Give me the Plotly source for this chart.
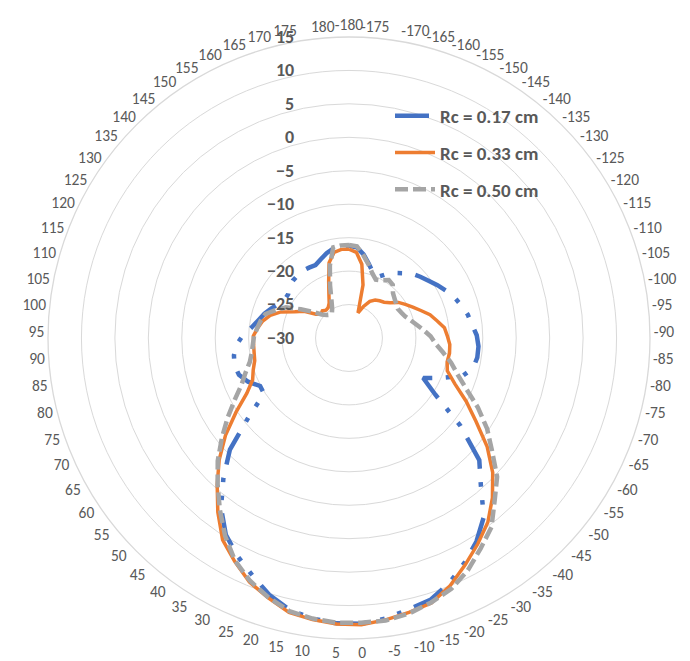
import plotly.graph_objects as go

# Angle categories, -180 ... 180 in 5-degree steps (73 spokes)
angles = list(range(-180, 185, 5))
categories = [str(a) for a in angles]

# Gain values (dB) per angle, listed from -180 to 180
rc_017 = [
    -16.2, -16.4, -17.3, -18.5, -19.5, -20.0, -19.1, -18.2, -17.45, -16.55,
    -15.95, -15.35, -14.6, -13.85, -13.1, -12.5, -11.9, -11.5, -10.9, -10.6,
    -10.6, -10.9, -12.1, -15.0, -17.4, -14.55, -8.8, -3.3, -0.5, 3.5,
    5.9, 7.8, 9.6, 11.0, 11.55, 12.3, 12.75, 12.7, 12.3, 11.6,
    10.2, 8.3, 6.6, 4.7, 1.8, -1.9, -5.6, -10.9, -14.8, -14.9,
    -13.55, -12.65, -12.4, -12.6, -13.1, -14.1, -15.35, -16.2, -16.85, -17.6,
    -18.3, -18.8, -18.8, -18.3, -18.0, -17.9, -17.8, -17.9, -18.0, -17.5,
    -16.9, -16.4, -16.2,
]
rc_033 = [
    -16.7, -17.15, -18.8, -21.8, -26.0, -24.8, -23.7, -23.1, -22.8, -22.5,
    -21.9, -20.9, -20.2, -19.4, -18.5, -17.4, -16.6, -15.65, -15.3, -14.9,
    -14.8, -14.9, -14.5, -12.75, -10.1, -7.3, -3.7, -0.55, 2.1, 4.5,
    6.3, 8.1, 10.0, 11.5, 12.0, 12.5, 12.9, 12.8, 12.45, 12.0,
    10.7, 9.4, 7.5, 5.6, 2.6, -0.5, -3.4, -6.5, -9.8, -12.65,
    -14.3, -14.9, -15.5, -15.65, -15.7, -15.7, -16.25, -16.85, -17.75, -19.1,
    -21.0, -22.2, -23.9, -24.5, -24.3, -24.6, -24.5, -24.0, -22.8, -21.0,
    -18.35, -17.0, -16.7,
]
rc_050 = [
    -16.1, -16.25, -17.45, -18.6, -19.7, -20.4, -20.1, -19.5, -19.7, -20.6,
    -21.0, -21.3, -21.5, -21.3, -21.0, -20.4, -19.7, -18.8, -17.8, -17.05,
    -15.8, -14.3, -12.9, -10.9, -8.1, -5.3, -2.8, 0.35, 2.6, 5.4,
    7.1, 9.0, 10.5, 11.4, 12.15, 12.6, 12.6, 12.6, 12.3, 11.8,
    10.6, 9.2, 7.4, 4.9, 2.1, -0.6, -3.1, -5.8, -8.3, -10.6,
    -12.5, -13.7, -14.75, -15.3, -15.6, -15.8, -16.2, -16.55, -17.0, -18.3,
    -19.5, -21.6, -23.3, -24.6, -25.2, -25.5, -25.5, -24.9, -23.7, -21.6,
    -18.8, -16.25, -16.1,
]

series_names = ["Rc = 0.17 cm", "Rc = 0.33 cm", "Rc = 0.50 cm"]
series_values = [rc_017, rc_033, rc_050]
series_styles = [
    dict(color="#4472C4", width=4.5, dash="34px,13.5px,4.5px,13.5px,4.5px,13.5px"),
    dict(color="#ED7D31", width=3.5, dash="solid"),
    dict(color="#A5A5A5", width=4.5, dash="13px,5px"),
]

font_family = "Calibri, Carlito, Lato, sans-serif"
text_grey = "#595959"
grid_grey = "#D9D9D9"

fig = go.Figure()
for name, vals, style in zip(series_names, series_values, series_styles):
    # close the loop back to the first angle
    fig.add_trace(go.Scatterpolar(
        r=vals + vals[:1],
        theta=categories + categories[:1],
        mode="lines",
        name=name,
        legendgroup=name,
        line=style,
        hoverinfo="skip",
    ))

cx, cy, rad = 349, 338, 301
W, H = 690, 661

fig.update_layout(
    width=W, height=H,
    margin=dict(l=0, r=0, t=0, b=0),
    paper_bgcolor="white",
    plot_bgcolor="white",
    font=dict(family=font_family, color=text_grey),
    polar=dict(
        domain=dict(x=[(cx - rad) / W, (cx + rad) / W],
                    y=[(H - cy - rad) / H, (H - cy + rad) / H]),
        bgcolor="white",
        angularaxis=dict(
            type="category",
            categoryorder="array",
            categoryarray=categories,
            direction="clockwise",
            rotation=90,
            showgrid=False,
            showline=True,
            linecolor=grid_grey,
            linewidth=1.3,
            ticks="",
            tickfont=dict(size=15.5, color=text_grey, family=font_family),
        ),
        radialaxis=dict(
            range=[-30, 15],
            dtick=5,
            tick0=-30,
            angle=90,
            side="counterclockwise",
            showline=False,
            showgrid=True,
            gridcolor=grid_grey,
            gridwidth=1.3,
            ticks="outside",
            ticklen=48,
            tickcolor="rgba(0,0,0,0)",
            tickangle=90,
            tickfont=dict(size=18, color=text_grey, family=font_family, weight="bold"),
        ),
    ),
    showlegend=True,
    legend=dict(
        x=390 / W, y=1 - 97 / H,
        xanchor="left", yanchor="top",
        bgcolor="rgba(0,0,0,0)",
        font=dict(size=19, color=text_grey, family=font_family, weight="bold"),
        tracegroupgap=9,
        itemwidth=40,
    ),
)

fig.write_html("out.html")
